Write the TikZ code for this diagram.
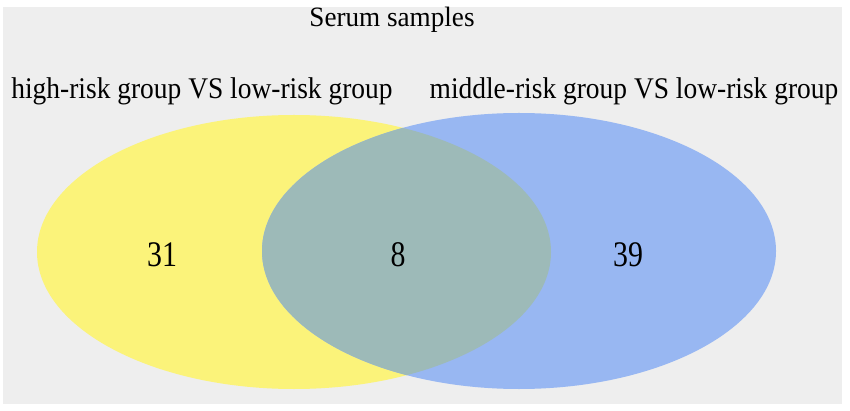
\documentclass[tikz,border=0pt]{standalone}
\usepackage{fontspec}
\setmainfont{Liberation Serif}
\definecolor{panelgray}{RGB}{238,238,238}
\definecolor{venyellow}{RGB}{251,243,122}
\definecolor{venblue}{RGB}{152,183,242}
\definecolor{venmix}{RGB}{157,186,184}
\tikzset{
  lbl/.style={font=\fontsize{30}{34}\selectfont, inner sep=0pt, anchor=base, xscale=0.915},
  ttl/.style={font=\fontsize{28}{32}\selectfont, inner sep=0pt, anchor=base, xscale=0.97},
  num/.style={font=\fontsize{36}{40}\selectfont, inner sep=0pt, anchor=base, xscale=0.83},
}
\begin{document}
\begin{tikzpicture}[x=1pt,y=-1pt]
\useasboundingbox (0,0) rectangle (850,411);
\fill[white] (0,0) rectangle (850,411);
\fill[panelgray] (3,7) rectangle (842,404);
\fill[venyellow] (294,252) ellipse [x radius=257, y radius=137];
\fill[venblue] (519,251) ellipse [x radius=257, y radius=138];
\begin{scope}
  \clip (294,252) ellipse [x radius=257, y radius=137];
  \fill[venmix] (519,251) ellipse [x radius=257, y radius=138];
\end{scope}
\node[ttl] (title) at (392,27) {Serum samples};
\node[lbl] (left) at (202,99) {high-risk group VS low-risk group};
\node[lbl] (right) at (634,99) {middle-risk group VS low-risk group};
\node[num] (a) at (162,266) {31};
\node[num] (b) at (398,266) {8};
\node[num] (c) at (628,266) {39};
\end{tikzpicture}
\end{document}
